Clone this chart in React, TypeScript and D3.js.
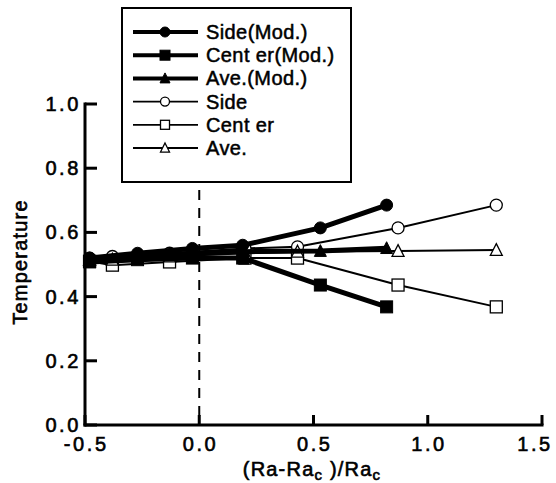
import React, { useEffect, useRef } from "react"
import * as d3 from "d3"

// x positions of the two families of runs
const xPlain = [-0.48, -0.38, -0.13, 0.2, 0.43, 0.87, 1.3]
const xMod = [-0.48, -0.27, -0.03, 0.19, 0.53, 0.82]

const sideMod = [0.52, 0.535, 0.55, 0.56, 0.614, 0.685]
const centerMod = [0.508, 0.515, 0.52, 0.52, 0.436, 0.368]
const aveMod = [0.515, 0.525, 0.535, 0.54, 0.542, 0.551]

const side = [0.52, 0.525, 0.535, 0.55, 0.555, 0.614, 0.685]
const center = [0.51, 0.498, 0.508, 0.52, 0.52, 0.436, 0.368]
const ave = [0.515, 0.515, 0.525, 0.535, 0.54, 0.542, 0.545]

const xTicks = ["-0.5", "0.0", "0.5", "1.0", "1.5"]
const yTicks = ["0.0", "0.2", "0.4", "0.6", "0.8", "1.0"]

const SERIES = [
  { name: "Side(Mod.)", xs: xMod, ys: sideMod, mark: "circle", fill: true, lw: 5 },
  { name: "Cent er(Mod.)", xs: xMod, ys: centerMod, mark: "square", fill: true, lw: 5 },
  { name: "Ave.(Mod.)", xs: xMod, ys: aveMod, mark: "triangle", fill: true, lw: 5 },
  { name: "Side", xs: xPlain, ys: side, mark: "circle", fill: false, lw: 2 },
  { name: "Cent er", xs: xPlain, ys: center, mark: "square", fill: false, lw: 2 },
  { name: "Ave.", xs: xPlain, ys: ave, mark: "triangle", fill: false, lw: 2 },
]

const W = 556
const H = 483
const FONT = "'Liberation Sans', Arial, sans-serif"

function drawMark(g, kind, x, y, size, filled) {
  const fill = filled ? "#000" : "#fff"
  const sw = filled ? 1 : 1.3
  if (kind === "circle") {
    g.append("circle").attr("cx", x).attr("cy", y).attr("r", size / 2)
      .attr("fill", fill).attr("stroke", "#000").attr("stroke-width", sw)
  } else if (kind === "square") {
    g.append("rect").attr("x", x - size / 2).attr("y", y - size / 2)
      .attr("width", size).attr("height", size)
      .attr("fill", fill).attr("stroke", "#000").attr("stroke-width", sw)
  } else {
    const h = size * 0.9
    g.append("path")
      .attr("d", `M${x},${y - h / 2 - 1}L${x + size / 2},${y + h / 2}L${x - size / 2},${y + h / 2}Z`)
      .attr("fill", fill).attr("stroke", "#000").attr("stroke-width", sw)
  }
}

export default function App() {
  const ref = useRef(null)

  useEffect(() => {
    const svg = d3.select(ref.current)
    svg.selectAll("*").remove()

    const x = d3.scaleLinear().domain([-0.5, 1.5]).range([85, 542])
    const y = d3.scaleLinear().domain([0, 1]).range([425, 104])

    // dashed line at zero
    svg.append("line")
      .attr("x1", x(0)).attr("x2", x(0))
      .attr("y1", 190).attr("y2", y(0))
      .attr("stroke", "#000").attr("stroke-width", 2)
      .attr("stroke-dasharray", "10,8")

    const line = d3.line().x((d) => x(d[0])).y((d) => y(d[1]))

    // thin series first, thick on top
    const order = [3, 4, 5, 0, 1, 2]
    order.forEach((i) => {
      const s = SERIES[i]
      const pts = s.xs.map((v, k) => [v, s.ys[k]])
      svg.append("path").datum(pts).attr("d", line)
        .attr("fill", "none").attr("stroke", "#000").attr("stroke-width", s.lw)
        .attr("stroke-linejoin", "round")
      const g = svg.append("g")
      pts.forEach((p) => drawMark(g, s.mark, x(p[0]), y(p[1]), 12, s.fill))
    })

    // axes
    const ax = svg.append("g").attr("stroke", "#000").attr("stroke-width", 3)
    ax.append("line").attr("x1", x(-0.5)).attr("x2", x(-0.5)).attr("y1", y(1) - 1.5).attr("y2", y(0) + 1.5)
    ax.append("line").attr("x1", x(-0.5) - 1.5).attr("x2", x(1.5) + 1.5).attr("y1", y(0)).attr("y2", y(0))
    yTicks.forEach((t) => {
      ax.append("line").attr("x1", x(-0.5)).attr("x2", x(-0.5) + 12).attr("y1", y(+t)).attr("y2", y(+t))
    })
    xTicks.forEach((t) => {
      ax.append("line").attr("x1", x(+t)).attr("x2", x(+t)).attr("y1", y(0)).attr("y2", y(0) - 10)
    })

    const txt = svg.append("g").attr("font-family", FONT).attr("font-size", 20)
      .attr("fill", "#000").attr("stroke", "#000").attr("stroke-width", 0.6)
      .attr("letter-spacing", 2.6)
    yTicks.forEach((t) => {
      txt.append("text").attr("x", 81).attr("y", y(+t) + 7).attr("text-anchor", "end")
        .text(t)
    })
    xTicks.forEach((t, i) => {
      const shift = i === xTicks.length - 1 ? -7 : 1.3
      txt.append("text").attr("x", x(+t) + shift).attr("y", 451).attr("text-anchor", "middle")
        .text(t)
    })

    const xt = txt.append("text").attr("x", 312).attr("y", 476).attr("text-anchor", "middle")
      .attr("letter-spacing", 1.2)
    xt.append("tspan").text("(Ra-Ra")
    xt.append("tspan").attr("font-size", 15).attr("dy", 4).text("c")
    xt.append("tspan").attr("dy", -4).text("  )/Ra")
    xt.append("tspan").attr("font-size", 15).attr("dy", 4).text("c")

    txt.append("text").attr("transform", "translate(27,262) rotate(-90)")
      .attr("text-anchor", "middle").attr("font-size", 20).attr("letter-spacing", 1.2)
      .text("Temperature")

    // legend
    const lg = svg.append("g")
    lg.append("rect").attr("x", 122).attr("y", 8).attr("width", 229).attr("height", 174)
      .attr("fill", "#fff").attr("stroke", "#000").attr("stroke-width", 2)
    SERIES.forEach((s, i) => {
      const ly = 32 + i * 23.2
      lg.append("line").attr("x1", 133).attr("x2", 198).attr("y1", ly).attr("y2", ly)
        .attr("stroke", "#000").attr("stroke-width", s.fill ? 4 : 1.8)
      drawMark(lg, s.mark, 165, ly, s.fill ? 10 : 9, s.fill)
      lg.append("text").attr("x", 206).attr("y", ly + 7)
        .attr("font-family", FONT).attr("font-size", 20).attr("letter-spacing", 0.4)
        .attr("stroke", "#000").attr("stroke-width", 0.5)
        .text(s.name)
    })
  }, [])

  return (
    <div style={{ position: "absolute", left: 0, top: 0 }}>
      <svg ref={ref} width={W} height={H} style={{ display: "block", background: "#fff" }} />
    </div>
  )
}
